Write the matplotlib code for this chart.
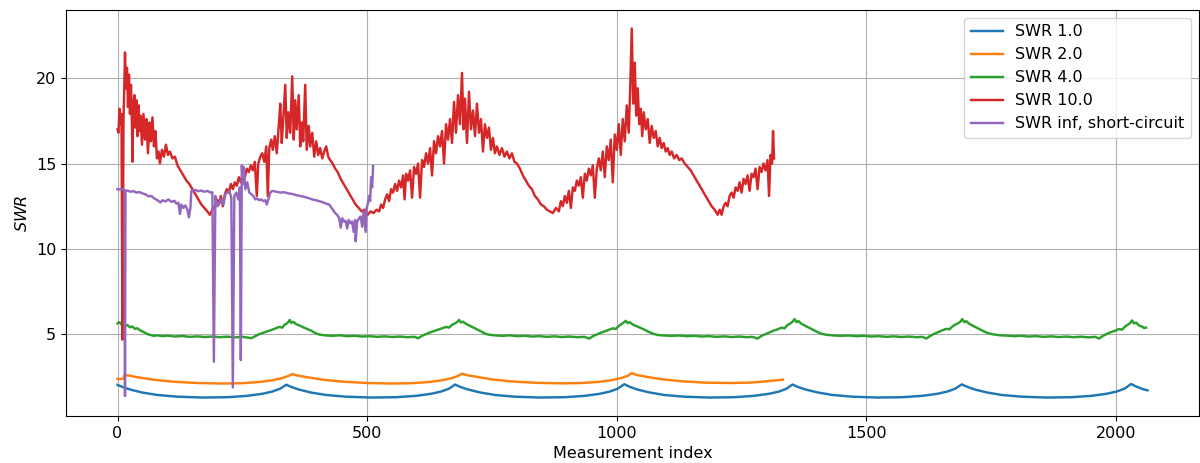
import matplotlib
matplotlib.use("Agg")
import matplotlib.pyplot as plt

# ---------------- data ----------------
labels = ["SWR 1.0", "SWR 2.0", "SWR 4.0", "SWR 10.0", "SWR inf, short-circuit"]

swr1_x = [0, 10, 25, 50, 80, 120, 170, 220, 260, 290, 310, 326, 338,
          348, 363, 388, 418, 458, 508, 558, 598, 628, 648, 664, 676,
          686, 701, 726, 756, 796, 846, 896, 936, 966, 986, 1002, 1015,
          1025, 1040, 1065, 1095, 1135, 1185, 1235, 1275, 1305, 1325, 1340, 1352,
          1362, 1377, 1402, 1432, 1472, 1522, 1572, 1612, 1642, 1662, 1678, 1691,
          1701, 1716, 1741, 1771, 1811, 1861, 1911, 1951, 1981, 2001, 2017, 2030,
          2040, 2052, 2063]
swr1_y = [2.05, 1.93, 1.78, 1.60, 1.46, 1.36, 1.31, 1.33, 1.41, 1.53, 1.66, 1.83, 2.06,
          1.93, 1.78, 1.60, 1.46, 1.36, 1.31, 1.33, 1.41, 1.53, 1.66, 1.83, 2.07,
          1.94, 1.79, 1.61, 1.46, 1.36, 1.31, 1.33, 1.41, 1.53, 1.66, 1.83, 2.09,
          1.95, 1.79, 1.61, 1.46, 1.36, 1.31, 1.33, 1.41, 1.53, 1.66, 1.83, 2.07,
          1.94, 1.79, 1.61, 1.46, 1.36, 1.31, 1.33, 1.41, 1.53, 1.66, 1.83, 2.08,
          1.95, 1.79, 1.61, 1.46, 1.36, 1.31, 1.33, 1.41, 1.53, 1.66, 1.83, 2.10,
          1.96, 1.82, 1.73]

swr2_x = [0, 6, 12, 14, 22, 40, 70, 110, 160, 210, 250, 285, 310, 330, 342, 350,
          360, 380, 410, 450, 500, 550, 590, 625, 650, 670, 682, 690,
          700, 720, 750, 790, 840, 890, 930, 965, 990, 1010, 1022, 1030,
          1040, 1060, 1090, 1130, 1180, 1230, 1270, 1300, 1320, 1333]
swr2_y = [2.40, 2.39, 2.42, 2.62, 2.60, 2.50, 2.36, 2.24, 2.16, 2.13, 2.15, 2.22, 2.32, 2.45, 2.57, 2.68,
          2.60, 2.50, 2.36, 2.24, 2.16, 2.13, 2.15, 2.22, 2.32, 2.45, 2.57, 2.71,
          2.62, 2.52, 2.37, 2.25, 2.17, 2.14, 2.16, 2.23, 2.33, 2.46, 2.58, 2.74,
          2.63, 2.52, 2.38, 2.26, 2.18, 2.16, 2.19, 2.26, 2.32, 2.36]

swr4_points = [
    (0, 5.65), (4, 5.72), (8, 5.58), (12, 5.62), (16, 5.50), (20, 5.55), (25, 5.42), (30, 5.46),
    (35, 5.33), (40, 5.36), (45, 5.24), (50, 5.18), (55, 5.10), (60, 5.02), (66, 4.97), (72, 4.92),
    (80, 4.95), (90, 4.90), (100, 4.93), (115, 4.88), (130, 4.91), (145, 4.86), (160, 4.89),
    (175, 4.85), (190, 4.88), (205, 4.84), (220, 4.87), (235, 4.83), (250, 4.86), (260, 4.82),
    (268, 4.78), (276, 4.90), (284, 5.02), (292, 5.10), (300, 5.18), (308, 5.26), (316, 5.35),
    (324, 5.44), (330, 5.40), (334, 5.55), (338, 5.62), (342, 5.72), (345, 5.85), (348, 5.68),
    (352, 5.74), (358, 5.60), (365, 5.52), (372, 5.42), (380, 5.32), (388, 5.22), (396, 5.08),
    (405, 4.99), (415, 4.95), (430, 4.92), (445, 4.95), (460, 4.90), (475, 4.92), (490, 4.88),
    (505, 4.90), (520, 4.86), (535, 4.89), (550, 4.85), (565, 4.88), (580, 4.84), (595, 4.86),
    (602, 4.78), (610, 4.92), (618, 5.02), (626, 5.12), (634, 5.20), (642, 5.28), (650, 5.36),
    (658, 5.44), (664, 5.40), (670, 5.56), (676, 5.65), (680, 5.72), (684, 5.85), (688, 5.70),
    (692, 5.75), (698, 5.62), (705, 5.52), (712, 5.42), (720, 5.30), (728, 5.18), (736, 5.05),
    (745, 4.98), (758, 4.94), (772, 4.92), (786, 4.95), (800, 4.90), (815, 4.92), (830, 4.88),
    (845, 4.90), (860, 4.86), (875, 4.89), (890, 4.85), (905, 4.88), (920, 4.84), (935, 4.86),
    (945, 4.76), (952, 4.90), (960, 5.00), (968, 5.10), (976, 5.18), (984, 5.27), (992, 5.36),
    (998, 5.32), (1004, 5.50), (1010, 5.62), (1014, 5.70), (1018, 5.80), (1022, 5.66), (1026, 5.72),
    (1032, 5.58), (1040, 5.48), (1048, 5.38), (1056, 5.27), (1064, 5.15), (1072, 5.05), (1082, 4.97),
    (1095, 4.94), (1110, 4.92), (1125, 4.94), (1140, 4.90), (1155, 4.92), (1170, 4.88), (1185, 4.90),
    (1200, 4.86), (1215, 4.89), (1230, 4.85), (1245, 4.88), (1260, 4.84), (1272, 4.86), (1282, 4.76),
    (1290, 4.92), (1298, 5.02), (1306, 5.12), (1314, 5.22), (1322, 5.30), (1330, 5.40), (1336, 5.36),
    (1342, 5.55), (1348, 5.65), (1352, 5.74), (1356, 5.90), (1360, 5.72), (1364, 5.78), (1370, 5.62),
    (1378, 5.50), (1386, 5.38), (1394, 5.26), (1402, 5.14), (1410, 5.04), (1420, 4.98), (1435, 4.94),
    (1450, 4.92), (1465, 4.94), (1480, 4.90), (1495, 4.92), (1510, 4.88), (1525, 4.90), (1540, 4.86),
    (1555, 4.89), (1570, 4.85), (1585, 4.88), (1600, 4.84), (1612, 4.86), (1620, 4.76), (1628, 4.92),
    (1636, 5.04), (1644, 5.14), (1652, 5.24), (1660, 5.33), (1666, 5.30), (1672, 5.46), (1678, 5.58),
    (1684, 5.66), (1688, 5.74), (1692, 5.90), (1696, 5.72), (1700, 5.78), (1706, 5.62), (1714, 5.50),
    (1722, 5.38), (1730, 5.26), (1738, 5.14), (1746, 5.06), (1755, 5.00), (1768, 4.95), (1782, 4.93),
    (1796, 4.90), (1810, 4.92), (1825, 4.88), (1840, 4.90), (1855, 4.86), (1870, 4.89), (1885, 4.85),
    (1900, 4.88), (1915, 4.84), (1930, 4.87), (1945, 4.83), (1958, 4.86), (1966, 4.76), (1974, 4.92),
    (1982, 5.04), (1990, 5.14), (1998, 5.22), (2006, 5.32), (2012, 5.28), (2018, 5.46), (2024, 5.58),
    (2028, 5.66), (2032, 5.82), (2036, 5.64), (2040, 5.70), (2046, 5.52), (2052, 5.46), (2056, 5.38),
    (2060, 5.40)]

swr10_points = [
    (0, 17.0), (2, 16.8), (4, 18.2), (6, 17.3), (8, 17.9), (10, 4.7), (12, 17.6), (14, 20.0),
    (15, 21.5), (17, 19.4), (19, 20.6), (21, 18.3), (23, 20.2), (25, 17.9), (27, 19.6), (29, 17.2),
    (30, 15.1), (32, 18.6), (34, 19.0), (36, 17.1), (38, 18.7), (40, 16.6), (42, 18.4), (44, 16.9),
    (46, 17.8), (49, 16.1), (52, 17.9), (55, 16.4), (58, 17.6), (61, 15.6), (64, 17.4), (67, 16.3),
    (70, 17.7), (73, 16.0), (76, 16.9), (79, 15.3), (82, 15.7), (85, 15.0), (89, 15.8), (93, 15.4),
    (97, 16.1), (101, 15.5), (105, 15.7), (110, 15.3), (115, 15.4), (120, 14.9), (126, 14.6),
    (132, 14.3), (138, 14.0), (144, 13.8), (150, 13.5), (156, 13.2), (162, 12.9), (168, 12.6),
    (174, 12.4), (180, 12.2), (185, 12.0), (190, 12.3), (195, 12.5), (199, 12.9), (203, 12.6),
    (207, 13.1), (211, 12.5), (215, 13.2), (219, 13.5), (223, 13.3), (227, 13.8), (231, 13.5),
    (235, 13.9), (239, 13.7), (243, 14.2), (247, 13.9), (251, 14.4), (255, 14.2), (259, 14.7),
    (263, 14.5), (267, 14.9), (271, 14.6), (275, 15.1), (279, 13.1), (282, 15.0), (286, 15.4),
    (290, 15.6), (294, 15.1), (298, 16.0), (301, 13.1), (304, 15.9), (308, 16.4), (311, 15.8),
    (315, 16.6), (319, 15.6), (323, 17.2), (326, 18.5), (329, 16.2), (332, 17.6), (336, 19.6),
    (339, 16.5), (342, 18.0), (346, 16.8), (350, 20.1), (353, 16.4), (356, 18.7), (359, 17.0),
    (363, 19.0), (366, 16.0), (369, 17.4), (372, 16.3), (376, 19.6), (379, 15.8), (383, 17.2),
    (386, 16.0), (390, 16.8), (394, 15.4), (398, 16.3), (402, 15.5), (406, 15.9), (410, 15.3),
    (414, 15.7), (418, 16.0), (422, 15.4), (426, 15.2), (431, 15.0), (436, 14.7), (441, 14.5),
    (447, 14.1), (453, 13.8), (459, 13.5), (465, 13.2), (471, 12.9), (477, 12.6), (483, 12.4),
    (489, 12.2), (495, 12.3), (501, 12.0), (507, 12.2), (513, 12.1), (519, 12.3), (524, 12.2),
    (528, 12.6), (532, 12.4), (536, 12.9), (540, 13.2), (544, 12.8), (548, 13.5), (552, 13.3),
    (556, 13.8), (560, 13.4), (564, 14.0), (568, 13.6), (572, 14.3), (575, 12.9), (578, 14.4),
    (582, 14.0), (586, 14.6), (590, 13.0), (594, 14.8), (598, 14.4), (602, 15.0), (606, 13.0),
    (610, 15.2), (614, 14.8), (618, 15.6), (622, 15.0), (626, 15.9), (630, 14.3), (634, 16.3),
    (638, 15.6), (642, 16.6), (646, 16.0), (650, 16.9), (654, 15.0), (658, 17.3), (662, 16.4),
    (666, 17.6), (670, 16.2), (674, 18.6), (678, 16.8), (682, 19.0), (686, 17.3), (690, 20.3),
    (693, 17.0), (696, 18.8), (700, 16.2), (704, 19.2), (708, 17.0), (712, 18.1), (716, 16.6),
    (720, 18.5), (724, 16.8), (728, 17.6), (732, 15.7), (736, 17.3), (740, 16.5), (744, 17.1),
    (748, 15.8), (752, 16.5), (756, 15.6), (760, 16.0), (765, 15.5), (770, 15.9), (775, 15.4),
    (780, 15.7), (785, 15.3), (790, 15.6), (795, 15.1), (800, 15.0), (806, 14.7), (812, 14.3),
    (818, 14.0), (824, 13.7), (830, 13.5), (836, 13.1), (842, 12.9), (848, 12.6), (854, 12.5),
    (860, 12.3), (866, 12.2), (872, 12.1), (878, 12.4), (884, 12.2), (888, 12.8), (892, 12.5),
    (896, 13.1), (900, 12.7), (904, 13.4), (908, 12.4), (912, 13.6), (916, 13.4), (920, 14.0),
    (924, 13.7), (928, 14.2), (932, 13.0), (936, 14.4), (940, 14.0), (944, 14.7), (948, 14.3),
    (952, 14.9), (956, 13.0), (960, 14.7), (964, 15.3), (968, 14.6), (972, 15.7), (976, 14.2),
    (980, 16.0), (984, 15.2), (988, 16.4), (992, 13.9), (996, 16.7), (1000, 15.8), (1004, 17.3),
    (1008, 15.5), (1012, 17.6), (1016, 16.3), (1020, 18.4), (1024, 16.8), (1027, 19.5),
    (1030, 22.9), (1033, 18.5), (1036, 20.9), (1039, 17.8), (1042, 19.4), (1045, 17.3),
    (1048, 18.2), (1051, 16.6), (1054, 18.0), (1058, 17.0), (1062, 17.6), (1066, 16.2),
    (1070, 17.2), (1074, 16.5), (1078, 16.9), (1082, 16.0), (1086, 16.5), (1090, 15.9),
    (1094, 16.2), (1098, 15.7), (1102, 15.9), (1106, 15.5), (1110, 15.7), (1115, 15.3),
    (1120, 15.5), (1125, 15.2), (1130, 15.3), (1136, 15.0), (1142, 14.8), (1148, 14.6),
    (1154, 14.3), (1160, 14.0), (1166, 13.7), (1172, 13.4), (1178, 13.1), (1184, 12.8),
    (1190, 12.5), (1196, 12.3), (1202, 12.0), (1206, 12.3), (1210, 12.0), (1214, 12.5),
    (1218, 12.7), (1222, 12.5), (1226, 13.1), (1230, 13.3), (1234, 13.0), (1238, 13.6),
    (1242, 13.4), (1246, 13.9), (1250, 13.3), (1254, 14.1), (1258, 13.8), (1262, 14.3),
    (1266, 13.4), (1270, 14.4), (1274, 14.2), (1278, 14.7), (1282, 13.5), (1286, 14.8),
    (1290, 14.5), (1294, 15.0), (1298, 14.6), (1302, 15.2), (1305, 13.1), (1308, 15.5),
    (1311, 15.0), (1313, 16.9), (1315, 15.3)]

swr_inf_points = [
    (0, 13.50), (4, 13.48), (8, 13.52), (12, 13.46), (14, 13.45), (15, 1.4), (16, 13.40),
    (20, 13.42), (26, 13.35), (32, 13.38), (38, 13.30), (44, 13.33), (50, 13.25), (56, 13.20),
    (62, 13.08), (68, 13.10), (74, 12.95), (80, 12.85), (86, 12.72), (90, 12.85), (96, 12.78),
    (102, 12.90), (108, 12.75), (114, 12.82), (118, 12.65), (122, 12.70), (125, 12.05),
    (128, 12.60), (132, 12.40), (136, 12.55), (140, 12.30), (143, 11.85), (146, 12.40),
    (148, 13.40), (156, 13.45), (162, 13.38), (168, 13.42), (174, 13.35), (180, 13.40),
    (186, 13.30), (190, 13.32), (193, 3.4), (196, 13.10), (200, 12.50), (204, 12.70),
    (208, 12.90), (212, 12.60), (216, 13.20), (220, 13.30), (224, 13.40), (228, 13.00),
    (231, 1.9), (234, 13.10), (238, 13.30), (242, 12.90), (245, 13.60), (247, 3.5),
    (249, 14.90), (251, 13.80), (253, 14.80), (256, 13.50), (260, 13.90), (264, 13.30),
    (268, 13.20), (272, 13.10), (276, 12.90), (280, 12.95), (284, 12.85), (288, 12.90),
    (292, 12.80), (296, 12.85), (299, 12.60), (302, 12.90), (306, 13.30), (310, 13.40),
    (318, 13.35), (326, 13.30), (334, 13.32), (342, 13.25), (350, 13.22), (358, 13.15),
    (366, 13.10), (374, 13.05), (382, 12.98), (390, 12.90), (398, 12.85), (404, 12.80),
    (412, 12.72), (418, 12.65), (424, 12.60), (430, 12.35), (436, 12.10), (440, 12.00),
    (444, 11.80), (447, 11.25), (450, 11.80), (454, 11.60), (457, 11.65), (460, 11.20),
    (463, 11.70), (467, 11.50), (470, 11.60), (473, 11.00), (476, 11.70), (477, 10.45),
    (480, 11.60), (484, 11.80), (487, 11.90), (490, 11.30), (493, 12.20), (497, 11.00),
    (499, 12.40), (501, 12.60), (504, 13.10), (506, 12.80), (508, 14.20), (510, 13.60),
    (512, 14.85)]

swr4_x, swr4_y = zip(*swr4_points)
swr10_x, swr10_y = zip(*swr10_points)
swrinf_x, swrinf_y = zip(*swr_inf_points)

series = [(swr1_x, swr1_y), (swr2_x, swr2_y), (swr4_x, swr4_y),
          (swr10_x, swr10_y), (swrinf_x, swrinf_y)]

# ---------------- figure ----------------
plt.rcParams["font.size"] = 11.5

fig = plt.figure(figsize=(12, 4.63), dpi=100)
ax = fig.add_axes([66 / 1200, 47 / 463, 1133 / 1200, 406 / 463])

for (xs, ys), lab in zip(series, labels):
    ax.plot(xs, ys, label=lab, linewidth=1.75)

ax.set_xlabel("Measurement index")
ax.set_ylabel("$SWR$")
ax.set_yticks([5, 10, 15, 20])
ax.grid(True)
ax.legend(loc="upper right")

fig.savefig("out.png", dpi=100)
